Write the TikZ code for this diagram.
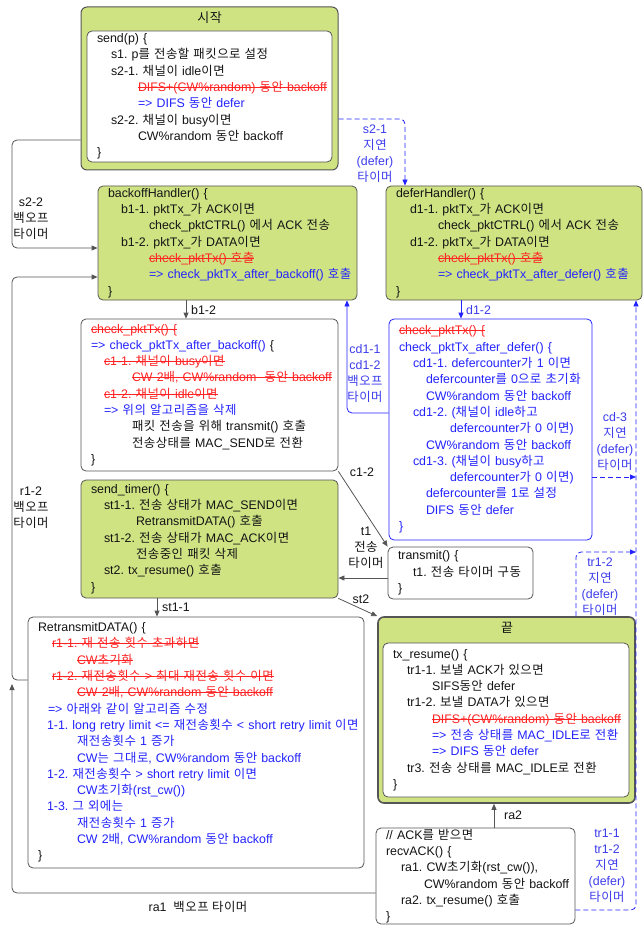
\documentclass[tikz,border=0pt]{standalone}
\usepackage{fontspec}
\setmainfont{Liberation Sans}
\newfontfamily\krfont[LetterSpace=4]{Noto Sans CJK KR}
\usetikzlibrary{arrows.meta}

\XeTeXinterchartokenstate=1
\newXeTeXintercharclass\hangulclass
\count255="AC00
\loop
  \XeTeXcharclass\count255=\hangulclass
  \ifnum\count255<"D7A3 \advance\count255 by 1 \repeat
\XeTeXinterchartoks 4095 \hangulclass = {\krfont}
\XeTeXinterchartoks \hangulclass 4095 = {\rmfamily}
\XeTeXinterchartoks 0 \hangulclass = {\krfont}
\XeTeXinterchartoks \hangulclass 0 = {\rmfamily}

\definecolor{boxgreen}{RGB}{207,227,131}
\definecolor{edgegray}{RGB}{85,85,85}
\definecolor{txt}{RGB}{20,20,20}
\definecolor{codered}{RGB}{255,35,35}
\definecolor{codeblue}{RGB}{35,35,255}
\definecolor{lblblue}{RGB}{60,60,235}

\newcommand\codefont{\fontsize{12.4}{16.3}\selectfont\frenchspacing}
\newcommand\strk[1]{\setbox0\hbox{#1}\rlap{\rule[0.3em]{\wd0}{0.7pt}}\box0}
\newcommand\rd[1]{\textcolor{codered}{\strk{#1}}}
\newcommand\bl[1]{\textcolor{codeblue}{#1}}
\newcommand\codeln[2]{\hspace*{#1pt}\mbox{#2}\\}

\begin{document}
\begin{tikzpicture}[x=1pt,y=-1pt,>={Triangle[length=6pt,width=5pt]},
  every node/.style={font=\codefont,text=txt},
  frame/.style={draw=edgegray,fill=boxgreen,rounded corners=6pt,line width=1pt},
  wbox/.style={draw=edgegray,fill=white,rounded corners=5pt,line width=0.8pt,align=left,inner xsep=10pt,inner ysep=0pt},
  gbox/.style={wbox,fill=boxgreen},
  bbox/.style={wbox,draw=codeblue,text=codeblue},
  title/.style={font=\fontsize{13}{15}\selectfont,inner sep=0pt},
  lbl/.style={align=center,inner sep=0pt,font=\fontsize{12.4}{16}\selectfont\frenchspacing},
  blbl/.style={lbl,text=lblblue},
  conn/.style={draw=edgegray,line width=0.8pt,rounded corners=5pt},
  bconn/.style={conn,draw=codeblue},
  dashline/.style={dash pattern=on 5pt off 3pt}]
  \useasboundingbox (0,0) rectangle (644,925);

  \node[frame,minimum width=257pt,minimum height=163pt] (start) at (209.5,88.5) {};
  \node[title] (start-title) at (209.5,18) {시작};
  \node[wbox,text width=225pt,minimum height=131pt] (sendp) at (209.5,96.5) {%
    \codeln{0}{send(p) \{}
    \codeln{14}{s1. p를 전송할 패킷으로 설정}
    \codeln{14}{s2-1. 채널이 idle이면}
    \codeln{41}{\rd{DIFS+(CW\%random) 동안 backoff}}
    \codeln{41}{\bl{=> DIFS 동안 defer}}
    \codeln{14}{s2-2. 채널이 busy이면}
    \codeln{41}{CW\%random 동안 backoff}
    \}};

  \node[gbox,text width=239pt,minimum height=114pt] (backoff) at (227.5,243) {%
    \codeln{0}{backoffHandler() \{}
    \codeln{13}{b1-1. pktTx\_가 ACK이면}
    \codeln{41}{check\_pktCTRL() 에서 ACK 전송}
    \codeln{13}{b1-2. pktTx\_가 DATA이면}
    \codeln{41}{\rd{check\_pktTx() 호출}}
    \codeln{41}{\bl{=> check\_pktTx\_after\_backoff() 호출}}
    \}};

  \node[gbox,text width=236pt,minimum height=114pt] (defer) at (514,243) {%
    \codeln{0}{deferHandler() \{}
    \codeln{14}{d1-1. pktTx\_가 ACK이면}
    \codeln{42}{check\_pktCTRL() 에서 ACK 전송}
    \codeln{14}{d1-2. pktTx\_가 DATA이면}
    \codeln{42}{\rd{check\_pktTx() 호출}}
    \codeln{42}{\bl{=> check\_pktTx\_after\_defer() 호출}}
    \}};

  \node[wbox,text width=237pt,minimum height=152pt] (chkb) at (209.5,395) {%
    \codeln{0}{\rd{check\_pktTx() \{}}
    \codeln{0}{\bl{=> check\_pktTx\_after\_backoff()} \{}
    \codeln{13}{\rd{c1-1. 채널이 busy이면}}
    \codeln{41}{\rd{CW 2배, CW\%random~ 동안 backoff}}
    \codeln{13}{\rd{c1-2. 채널이 idle이면}}
    \codeln{13}{\bl{=> 위의 알고리즘을 삭제}}
    \codeln{41}{패킷 전송을 위해 transmit() 호출}
    \codeln{41}{전송상태를 MAC\_SEND로 전환}
    \}};

  \node[bbox,text width=183pt,minimum height=221pt] (chkd) at (490.5,429.5) {%
    \codeln{0}{\rd{check\_pktTx() \{}}
    \codeln{0}{check\_pktTx\_after\_defer() \{}
    \codeln{14}{cd1-1. defercounter가 1 이면}
    \codeln{27}{defercounter를 0으로 초기화}
    \codeln{27}{CW\%random 동안 backoff}
    \codeln{14}{cd1-2. (채널이 idle하고}
    \codeln{51}{defercounter가 0 이면)}
    \codeln{27}{CW\%random 동안 backoff}
    \codeln{14}{cd1-3. (채널이 busy하고}
    \codeln{51}{defercounter가 0 이면)}
    \codeln{27}{defercounter를 1로 설정}
    \codeln{27}{DIFS 동안 defer}
    \}};

  \node[gbox,text width=237pt,minimum height=118pt] (timer) at (209.5,539) {%
    \codeln{0}{send\_timer() \{}
    \codeln{13}{st1-1. 전송 상태가 MAC\_SEND이면}
    \codeln{45}{RetransmitDATA() 호출}
    \codeln{13}{st1-2. 전송 상태가 MAC\_ACK이면}
    \codeln{45}{전송중인 패킷 삭제}
    \codeln{13}{st2. tx\_resume() 호출}
    \}};

  \node[wbox,text width=125pt,minimum height=52pt] (transmit) at (460.5,573) {%
    \codeln{0}{transmit() \{}
    \codeln{15}{t1. 전송 타이머 구동}
    \}};

  \node[wbox,text width=316pt,minimum height=251pt] (retx) at (196,742.5) {%
    \codeln{0}{RetransmitDATA() \{}
    \codeln{14}{\rd{r1-1. 재 전송 횟수 초과하면}}
    \codeln{39}{\rd{CW초기화}}
    \codeln{14}{\rd{r1-2. 재전송횟수 > 최대 재전송 횟수 이면}}
    \codeln{39}{\rd{CW 2배, CW\%random 동안 backoff}}
    \codeln{10}{\bl{=> 아래와 같이 알고리즘 수정}}
    \codeln{9}{\bl{1-1. long retry limit <= 재전송횟수 < short retry limit 이면}}
    \codeln{39}{\bl{재전송횟수 1 증가}}
    \codeln{39}{\bl{CW는 그대로, CW\%random 동안 backoff}}
    \codeln{9}{\bl{1-2. 재전송횟수 > short retry limit 이면}}
    \codeln{39}{\bl{CW초기화(rst\_cw())}}
    \codeln{9}{\bl{1-3. 그 외에는}}
    \codeln{39}{\bl{재전송횟수 1 증가}}
    \codeln{39}{\bl{CW 2배, CW\%random 동안 backoff}}
    \}};

  \node[frame,line width=1.6pt,minimum width=257pt,minimum height=186pt] (endbox) at (506.5,710) {};
  \node[title] (end-title) at (507,628) {끝};
  \node[wbox,text width=226pt,minimum height=154pt] (resume) at (506,720) {%
    \codeln{0}{tx\_resume() \{}
    \codeln{14}{tr1-1. 보낼 ACK가 있으면}
    \codeln{39}{SIFS동안 defer}
    \codeln{14}{tr1-2. 보낼 DATA가 있으면}
    \codeln{39}{\rd{DIFS+(CW\%random) 동안 backoff}}
    \codeln{39}{\bl{=> 전송 상태를 MAC\_IDLE로 전환}}
    \codeln{39}{\bl{=> DIFS 동안 defer}}
    \codeln{14}{tr3. 전송 상태를 MAC\_IDLE로 전환}
    \}};

  \node[wbox,text width=179pt,minimum height=96pt] (recv) at (475.5,876) {%
    \codeln{0}{// ACK를 받으면}
    \codeln{0}{recvACK() \{}
    \codeln{15}{ra1. CW초기화(rst\_cw()),}
    \codeln{38}{CW\%random 동안 backoff}
    \codeln{15}{ra2. tx\_resume() 호출}
    \}};

  \coordinate (rail-cd3) at (636,477);
  \coordinate (rail-tr12) at (636,552);

  \draw[conn,->] (start.west |- 0,140) -| (12,248) -- (backoff.west |- 0,248);
  \draw[conn,->] (retx.west |- 0,680) -| (12,277) -- (backoff.west |- 0,277);
  \draw[conn,->] (recv.west |- 0,893) -| (12,684);
  \draw[conn,->] (backoff.south -| 186,0) -- (chkb.north -| 186,0);
  \draw[bconn,->] (defer.south -| 461,0) -- (chkd.north -| 461,0);
  \draw[bconn,->] (chkd.west |- 0,413) -| (backoff.south -| 347,0);
  \draw[bconn,dashline,->] (start.east |- 0,119) -| (defer.north -| 405,0);
  \draw[bconn,dashline,->] (chkd.east |- 0,477) -- (rail-cd3);
  \draw[bconn,dashline,->] (endbox.north -| 576,0) |- (rail-tr12);
  \draw[bconn,dashline,->] (recv.east |- 0,910) -| (defer.south -| 636,0);
  \draw[conn,->] (chkb.south east) -- (transmit.north west);
  \draw[conn,->] (transmit.west |- 0,578) -- (timer.east |- 0,578);
  \draw[conn,->] (timer.south -| 157,0) -- (retx.north -| 157,0);
  \draw[conn,->] (timer.south east) -- (endbox.north west);
  \draw[conn,->] (recv.north -| 494,0) -- (endbox.south -| 494,0);

  \node[lbl] (l-s22) at (31,219) {s2-2\\백오프\\타이머};
  \node[blbl] (l-s21) at (375,154) {s2-1\\지연\\(defer)\\타이머};
  \node[lbl,anchor=west] (l-b12) at (191,310) {b1-2};
  \node[blbl,anchor=west] (l-d12) at (466,310) {d1-2};
  \node[blbl] (l-cd1) at (365,373.5) {cd1-1\\cd1-2\\백오프\\타이머};
  \node[blbl] (l-cd3) at (615,441.5) {cd-3\\지연\\(defer)\\타이머};
  \node[lbl] (l-c12) at (362,472) {c1-2};
  \node[lbl] (l-t1) at (366,548) {t1\\전송\\타이머};
  \node[lbl] (l-r12) at (31,508) {r1-2\\백오프\\타이머};
  \node[lbl,anchor=west] (l-st11) at (162,607) {st1-1};
  \node[lbl] (l-st2) at (361,599) {st2};
  \node[blbl] (l-tr12) at (600,587) {tr1-2\\지연\\(defer)\\타이머};
  \node[lbl,anchor=west] (l-ra2) at (504,815) {ra2};
  \node[blbl] (l-tr11) at (607,865.5) {tr1-1\\tr1-2\\지연\\(defer)\\타이머};
  \node[lbl] (l-ra1) at (198,907) {ra1\ \ 백오프 타이머};
\end{tikzpicture}
\end{document}
